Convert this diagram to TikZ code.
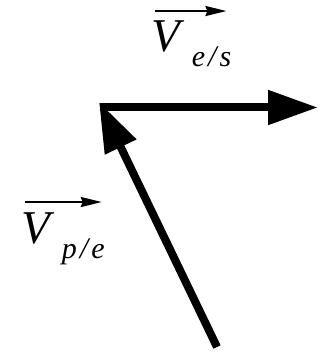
\documentclass[tikz,border=0pt]{standalone}
\usepackage{fontspec}
\newfontfamily\vecfont{Liberation Serif}
\usepackage{tikz}
\usetikzlibrary{arrows.meta, positioning, calc}

% vector name: big V, lowered subscript
\newcommand{\vecname}[2]{{\vecfont\itshape\fontsize{47pt}{50pt}\selectfont V}%
  \hspace{12pt}\raisebox{-15pt}{\vecfont\itshape\fontsize{30pt}{32pt}\selectfont #1\hspace{3pt}/\hspace{3pt}#2}}

\begin{document}
\begin{tikzpicture}[x=1pt, y=-1pt,
    velarrow/.style={line width=8pt, -{Triangle[length=50pt, width=33pt]}},
    overarrow/.style={line width=2pt, -{Stealth[length=21pt, width=10pt, inset=2pt]}},
    veclabel/.style={inner sep=0pt, anchor=base west}]
  \useasboundingbox (0,0) rectangle (323,355);

  \coordinate (O) at (100,107.5);   % common point
  \coordinate (tipP) at (99,102);
  \coordinate (endE) at (318,107.5);
  \coordinate (tailP) at (217,347);

  \draw[velarrow] (O) -- (endE);      % V e/s
  \draw[velarrow] (tailP) -- (tipP);  % V p/e

  \node[veclabel] (les) at (151,52) {\vecname{e}{s}};
  \node[veclabel] (lpe) at (21,243) {\vecname{p}{e}};

  \draw[overarrow] ([xshift=4pt, yshift=10pt]les.north west) -- ([xshift=-5pt, yshift=10pt]les.north east);
  \draw[overarrow] ([xshift=4pt, yshift=10pt]lpe.north west) -- ([xshift=-3pt, yshift=10pt]lpe.north east);
\end{tikzpicture}
\end{document}
